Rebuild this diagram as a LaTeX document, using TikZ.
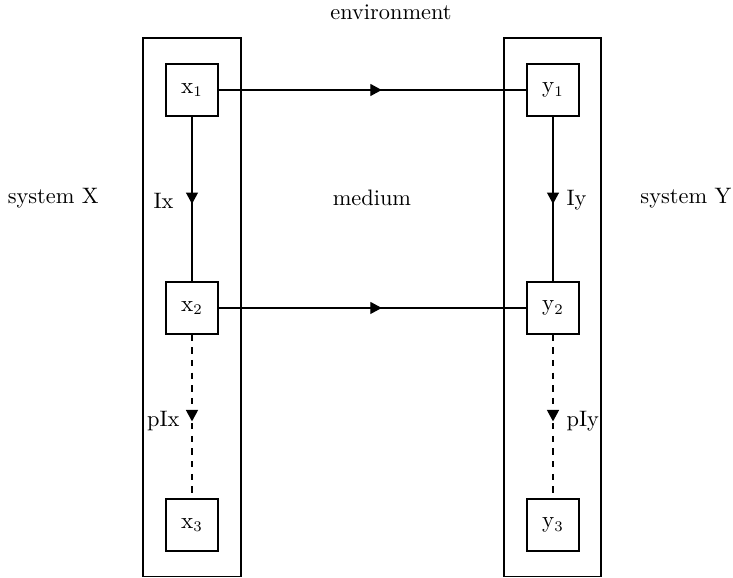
\documentclass[tikz,border=0pt]{standalone}
\usepackage{amsmath}
\usepackage{amssymb}
\usetikzlibrary{arrows.meta,decorations.markings}

\tikzset{
  var/.style={draw, semithick, minimum size=0.867cm, inner sep=0pt},
  midarrow/.style={postaction={decorate, decoration={markings,
      mark=at position 0.53 with {\arrow{Triangle[length=0.19cm,width=0.2cm]}}}}}
}

\begin{document}
\begin{tikzpicture}[semithick, font=\fontsize{10.6}{12}\selectfont]
\useasboundingbox (0,0) rectangle (12.217,9.633);
\draw (2.383,0.02) rectangle (4.017,9.0);
\draw (8.4,0.02) rectangle (10.017,9.0);
\node[var] (x1) at (3.2,8.133) {$\mathrm{x}_1$};
\node[var] (x2) at (3.2,4.5) {$\mathrm{x}_2$};
\node[var] (x3) at (3.2,0.883) {$\mathrm{x}_3$};
\node[var] (y1) at (9.217,8.133) {$\mathrm{y}_1$};
\node[var] (y2) at (9.217,4.5) {$\mathrm{y}_2$};
\node[var] (y3) at (9.217,0.883) {$\mathrm{y}_3$};
\draw[midarrow] (x1) -- (y1);
\draw[midarrow] (x2) -- (y2);
\draw[midarrow] (x1) -- node[pos=0.51, left=0.18cm] {Ix} (x2);
\draw[midarrow] (y1) -- node[pos=0.51, right=0.1cm] {Iy} (y2);
\draw[dashed, midarrow] (x2) -- node[pos=0.53, left=0.08cm] {pIx} (x3);
\draw[dashed, midarrow] (y2) -- node[pos=0.53, right=0.1cm] {pIy} (y3);
\node (env) at (6.517,9.43) {environment};
\node[anchor=west, inner sep=0pt] (sysx) at (0.12,6.33) {system X};
\node (med) at (6.2,6.33) {medium};
\node[anchor=east, inner sep=0pt] (sysy) at (12.2,6.33) {system Y};
\end{tikzpicture}
\end{document}
